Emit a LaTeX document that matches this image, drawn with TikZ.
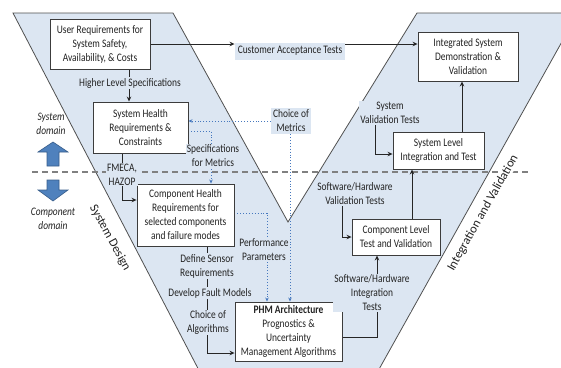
\documentclass[tikz,border=0pt]{standalone}
\usepackage{fontspec}
\setmainfont{Carlito}[FakeStretch=0.82]
\newfontfamily\rotf{Carlito}
\usetikzlibrary{arrows.meta}
\definecolor{vfill}{RGB}{220,230,242}
\definecolor{vedge}{RGB}{80,80,80}
\definecolor{boxc}{RGB}{60,60,60}
\definecolor{dotc}{RGB}{70,120,190}
\definecolor{blockc}{RGB}{79,129,189}
\definecolor{blockd}{RGB}{56,93,138}
\definecolor{txt}{RGB}{35,35,35}
\pgfdeclarelayer{bg}
\pgfdeclarelayer{conn}
\pgfsetlayers{bg,conn,main}
\newcommand{\fs}{\fontsize{11.5}{14}\selectfont}
\tikzset{
  box/.style={draw=boxc, fill=white, line width=0.9pt, align=center, inner sep=1pt, font=\fs, text=txt},
  lbl/.style={fill=vfill, align=center, inner sep=1pt, font=\fs, text=txt},
  plain/.style={align=center, inner sep=1pt, font=\fs, text=txt},
  rot/.style={inner sep=0.5pt, fill=white, text=txt, font=\rotf\fontsize{12.5}{15}\selectfont},
  arr/.style={-{Stealth[length=5pt,width=4.5pt]}, line width=1pt, draw=black!85},
  dotarr/.style={dotted, draw=dotc, line width=0.9pt, -{Stealth[length=4pt,width=3.5pt]}},
}
\begin{document}
\begin{tikzpicture}[x=1pt,y=-1pt]
\useasboundingbox (0,0) rectangle (561,367);
% nodes
\node[box, minimum width=100, minimum height=50] (ur) at (100,44) {User Requirements for\\System Safety,\\Availability, \& Costs};
\node[box, minimum width=100, minimum height=49] (isd) at (468,56.5) {Integrated System\\Demonstration \&\\Validation};
\node[box, minimum width=95, minimum height=51] (shr) at (140.5,127.5) {System Health\\Requirements \&\\Constraints};
\node[box, minimum width=97, minimum height=62] (chr) at (185.5,215) {Component Health\\Requirements for\\selected components\\and failure modes};
\node[box, minimum width=107, minimum height=59] (phm) at (288.5,331.5) {\textbf{PHM Architecture}\\Prognostics \&\\Uncertainty\\Management Algorithms};
\node[box, minimum width=88, minimum height=36] (clt) at (396,237) {Component Level\\Test and Validation};
\node[box, minimum width=91, minimum height=37] (slit) at (438.5,150.5) {System Level\\Integration and Test};

\node[lbl, minimum height=17, inner xsep=3pt] (cat) at (290,51) {Customer Acceptance Tests};
\node[lbl, inner sep=2pt] (com) at (291,121) {Choice of\\Metrics};
\node[lbl] (hls) at (130,83) {Higher Level Specifications};
\node[lbl] (fm) at (122,174.5) {FMECA,\\HAZOP};
\node[lbl] (sfm) at (213,156) {Specifications\\for Metrics};
\node[lbl] (pp) at (264,250) {Performance\\Parameters};
\node[lbl] (dsr) at (207,266) {Define Sensor\\Requirements};
\node[lbl] (dfm) at (210,293) {Develop Fault Models};
\node[lbl] (coa) at (208,322.5) {Choice of\\Algorithms};
\node[lbl] (swit) at (372,293) {Software/Hardware\\Integration\\Tests};
\node[lbl] (swvt) at (355,194) {Software/Hardware\\Validation Tests};
\node[lbl] (svt) at (390,113) {System\\Validation Tests};

\node[plain] (sdom) at (51,124) {\itshape System\\\itshape domain};
\node[plain] (cdom) at (53,218.5) {\itshape Component\\\itshape domain};

\node[rot, rotate=-61.5] (sd) at (110,238) {System Design};
\node[rot, rotate=60.5] (iv) at (483,213) {Integration and Validation};

% background
\begin{pgfonlayer}{bg}
\begin{scope}
\clip (0,0) rectangle (561,367);
\fill[vfill] (13,13) -- (173,13) -- (288,222) -- (417,13) -- (578,13) -- (373,380) -- (204,380) -- cycle;
\draw[vedge, line width=0.8pt] (204,380) -- (13,13) -- (173,13) -- (288,222) -- (417,13) -- (578,13) -- (373,380);
\end{scope}
\draw[gray, line width=1.3pt, dash pattern=on 6pt off 4pt] (32,172) -- (530,172);
\fill[blockc, draw=blockd, line width=0.6pt] (53,142) -- (68,152) -- (59,152) -- (59,166) -- (47,166) -- (47,152) -- (38,152) -- cycle;
\fill[blockc, draw=blockd, line width=0.6pt] (47,180) -- (59,180) -- (59,190) -- (68,190) -- (53,201) -- (38,190) -- (47,190) -- cycle;
\end{pgfonlayer}

% connectors
\begin{pgfonlayer}{conn}
\draw[arr] (ur.east) -- (ur.east -| cat.west);
\draw[arr] (cat.east |- ur.east) -- (isd.west |- ur.east);
\draw[arr] (ur.south -| 129,0) -- (shr.north -| 129,0);
\draw[arr] (shr.south -| fm) |- (chr.west |- 0,200);
\draw[arr] (chr.south -| dsr) |- (phm.west |- 0,353);
\draw[arr] (phm.east |- 0,337) -| (377,0 |- clt.south);
\draw[arr] (342,200) |- (clt.west |- 0,237);
\draw[arr] (375,118) |- (slit.west |- 0,154);
\draw[arr] (clt.north -| 412,0) -- (slit.south -| 412,0);
\draw[arr] (slit.north -| 462,0) -- (isd.south -| 462,0);
\draw[dotarr] (com.west) -- (com.west -| shr.east);
\draw[dotarr] (shr.east |- 0,131) -| (211,0 |- chr.north);
\draw[dotarr] (chr.east |- 0,213) -| (267,0 |- phm.north);
\draw[dotarr] (com.south -| 290,0) -- (290,0 |- phm.north);
\end{pgfonlayer}
\end{tikzpicture}
\end{document}
